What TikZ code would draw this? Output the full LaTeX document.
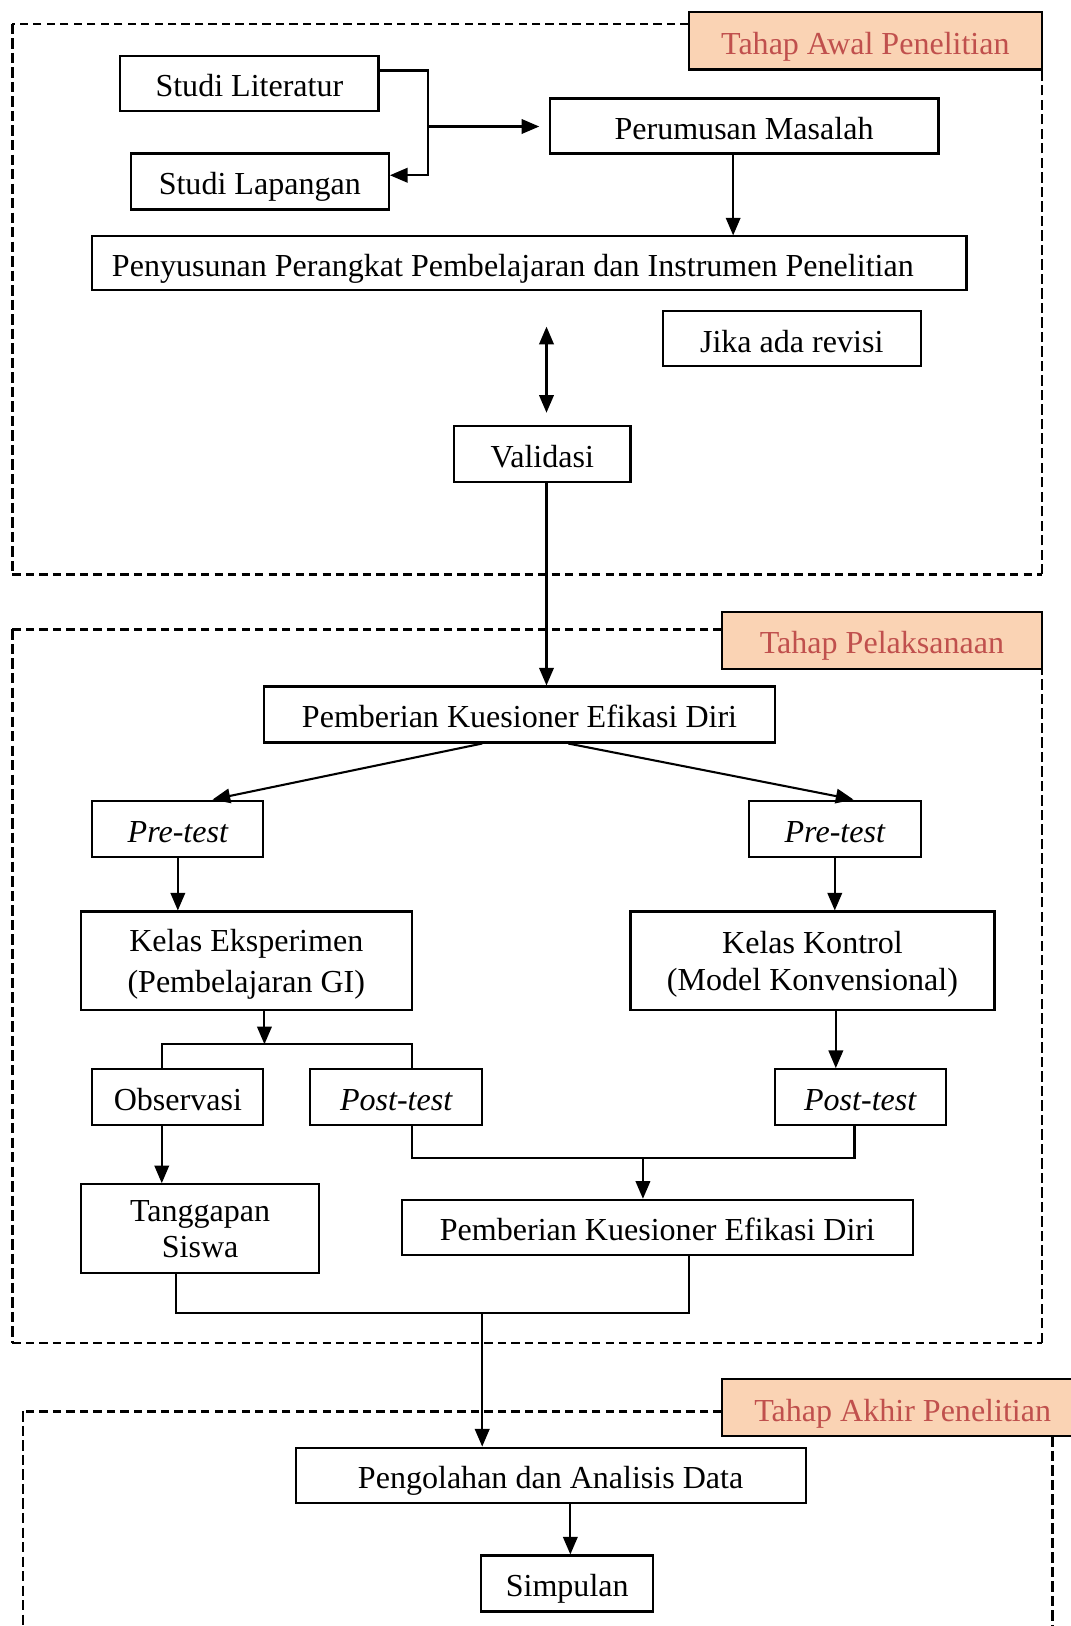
\documentclass[tikz,border=0pt]{standalone}
\usepackage{fontspec}
\setmainfont{Liberation Serif}
\usetikzlibrary{arrows.meta,calc}
\definecolor{peach}{HTML}{FAD3B4}
\definecolor{labred}{HTML}{C0504D}
\begin{document}
\begin{tikzpicture}[x=1pt,y=-1pt,
  font=\fontsize{30.9}{37}\selectfont,
  box/.style={draw, line width=2pt, inner sep=0pt, align=center, text depth=0pt},
  one/.style={text height=26pt},
  lab/.style={draw, line width=2pt, fill=peach, text=labred, inner sep=0pt, text height=26pt, text depth=0pt},
  conn/.style={line width=2pt},
  arr/.style={line width=2pt, -{Triangle[length=17pt,width=14pt]}},
  arrboth/.style={line width=2pt, {Triangle[length=17pt,width=14pt]}-{Triangle[length=17pt,width=14pt]}},
  secth/.style={line width=2.2pt, dash pattern=on 8pt off 5pt},
  sectv/.style={line width=2.2pt, dash pattern=on 10pt off 4pt}]
\useasboundingbox (0,0) rectangle (1032,1568);

% section frames
\draw[secth] (664,23) -- (12,23);
\draw[sectv] (12,23) -- (12,554);
\draw[secth] (12,554) -- (1005,554);
\draw[sectv] (1005,554) -- (1005,67);
\draw[secth] (696,607) -- (12,607);
\draw[sectv] (12,607) -- (12,1295);
\draw[secth] (12,1295) -- (1005,1295);
\draw[sectv] (1005,1295) -- (1005,645);
\draw[secth] (696,1361) -- (22,1361);
\draw[sectv] (22,1361) -- (22,1575);
\draw[sectv] (1015,1385) -- (1015,1575);

% section labels
\node[lab, minimum width=341pt, minimum height=55pt] (lab1) at (834.5,39.5) {Tahap Awal Penelitian};
\node[lab, minimum width=309pt, minimum height=55pt] (lab2) at (850.5,617.5) {Tahap Pelaksanaan};
\node[lab, minimum width=349pt, minimum height=55pt] (lab3) at (870.5,1357.5) {Tahap Akhir Penelitian};

% boxes
\node[box, one, minimum width=249pt, minimum height=53pt] (lit) at (240.5,80.5) {Studi Literatur};
\node[box, one, minimum width=249pt, minimum height=54pt] (lap) at (250.5,175) {Studi Lapangan};
\node[box, one, minimum width=375pt, minimum height=53pt] (per) at (717.5,121.5) {Perumusan Masalah};
\node[box, one, inner xsep=19pt, minimum height=52pt] (pen) at (510.5,254) {\makebox[805pt][l]{Penyusunan Perangkat Pembelajaran dan Instrumen Penelitian}};
\node[box, one, minimum width=249pt, minimum height=53pt] (jika) at (763.5,326.5) {Jika ada revisi};
\node[box, one, minimum width=170pt, minimum height=54pt] (val) at (523,438) {Validasi};

\node[box, one, minimum width=492pt, minimum height=54pt] (pk1) at (501,689) {Pemberian Kuesioner Efikasi Diri};
\node[box, one, minimum width=165pt, minimum height=54pt] (pre1) at (171.5,799) {\itshape Pre-test};
\node[box, one, minimum width=166pt, minimum height=54pt] (pre2) at (805,799) {\itshape Pre-test};
\node[box, minimum width=319pt, minimum height=95pt, font=\fontsize{30.9}{40}\selectfont] (ke) at (237.5,926.5) {Kelas Eksperimen\\(Pembelajaran GI)};
\node[box, minimum width=351pt, minimum height=95pt, font=\fontsize{30.9}{36}\selectfont] (kk) at (783.5,926.5) {Kelas Kontrol\\(Model Konvensional)};
\node[box, one, minimum width=165pt, minimum height=54pt] (obs) at (171.5,1058) {Observasi};
\node[box, one, minimum width=166pt, minimum height=54pt] (post1) at (382,1058) {\itshape Post-test};
\node[box, one, minimum width=165pt, minimum height=54pt] (post2) at (829.5,1058) {\itshape Post-test};
\node[box, minimum width=230pt, minimum height=86pt, font=\fontsize{30.9}{35}\selectfont] (tg) at (193,1185) {Tanggapan\\Siswa};
\node[box, one, minimum width=492pt, minimum height=53pt] (pk2) at (634,1183.5) {Pemberian Kuesioner Efikasi Diri};

\node[box, one, minimum width=492pt, minimum height=53pt] (peng) at (531,1422.5) {Pengolahan dan Analisis Data};
\node[box, one, minimum width=166pt, minimum height=54pt] (simp) at (547,1527) {Simpulan};

% helper coordinates
\coordinate (jl) at (413,122);
\coordinate (xv) at (527,0);
\coordinate (xp) at (707,0);
\coordinate (sp) at (255,1007);
\coordinate (xa) at (156,0);
\coordinate (xb) at (397,0);
\coordinate (xr) at (806,0);
\coordinate (xc) at (824,0);
\coordinate (jm) at (620,1117);
\coordinate (xt) at (170,0);
\coordinate (xq) at (664,0);
\coordinate (jb) at (465,1266);
\coordinate (xs) at (550,0);

% connectors
\draw[arr] ([yshift=12.5pt]lit.east) -| (jl) |- ([yshift=6pt]lap.east);
\draw[arr, shorten >=9pt] (jl) -- (jl -| per.west);
\draw[arr] (per.south -| xp) -- (pen.north -| xp);
\draw[arrboth, shorten <=34pt, shorten >=12pt] (pen.south -| xv) -- (val.north -| xv);
\draw[arr] (val.south -| xv) -- (pk1.north -| xv);

\draw[arr] ([xshift=-36pt]pk1.south) -- ([xshift=33.5pt]pre1.north);
\draw[arr] ([xshift=47pt]pk1.south) -- ([xshift=18pt]pre2.north);
\draw[arr] (pre1.south) -- (pre1.south |- ke.north);
\draw[arr] (pre2.south) -- (pre2.south |- kk.north);
\draw[arr] (ke.south -| sp) -- (sp);
\draw[conn] (obs.north -| xa) -- (xa |- sp) -- (xb |- sp) -- (post1.north -| xb);
\draw[arr] (kk.south -| xr) -- (post2.north -| xr);
\draw[conn] (post1.south -| xb) |- (jm) -| (post2.south -| xc);
\draw[arr] (jm) -- (jm |- pk2.north);
\draw[arr] (obs.south -| xa) -- (tg.north -| xa);
\draw[conn] (tg.south -| xt) |- (jb) -| (pk2.south -| xq);
\draw[arr] (jb) -- (jb |- peng.north);
\draw[arr] (peng.south -| xs) -- (simp.north -| xs);
\end{tikzpicture}
\end{document}
